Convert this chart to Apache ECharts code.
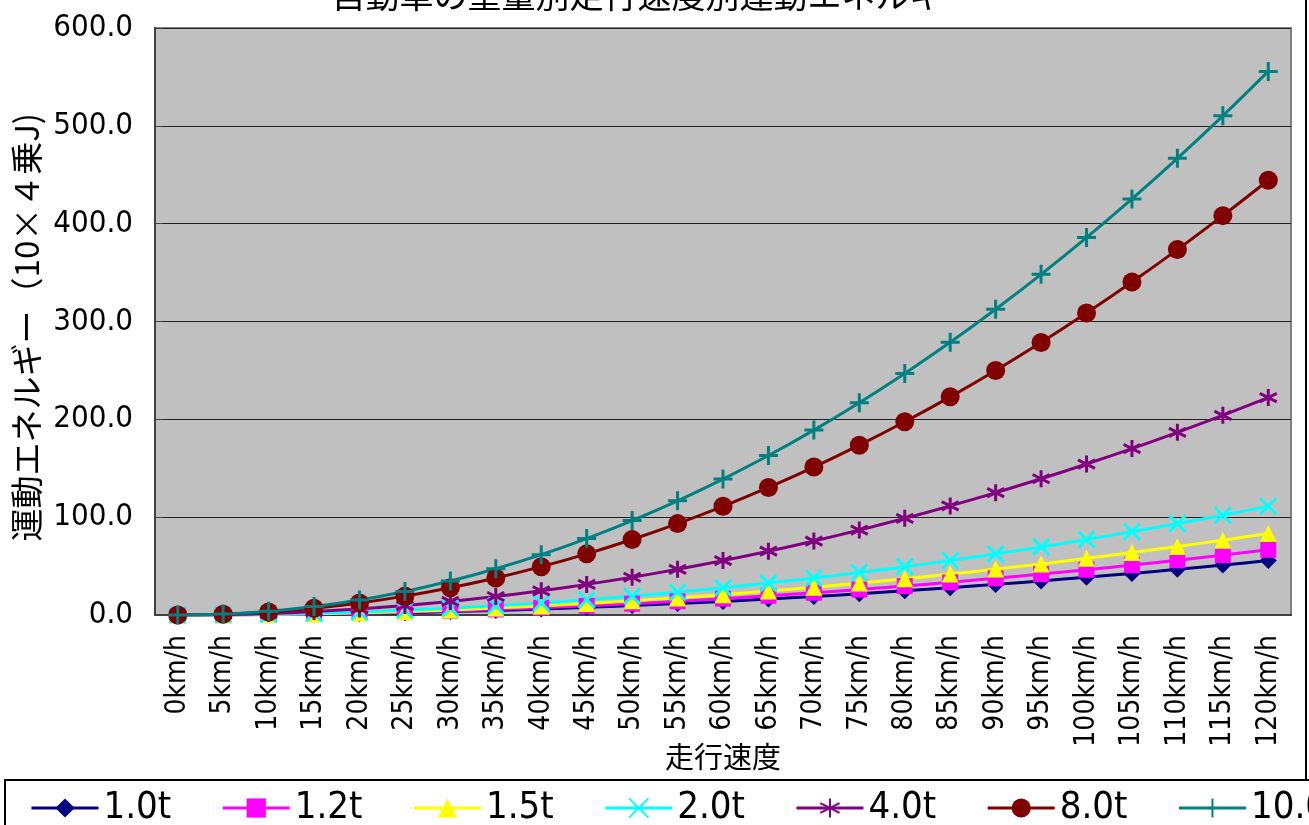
<!DOCTYPE html>
<html><head><meta charset="utf-8">
<script src="https://cdn.jsdelivr.net/npm/echarts@6/dist/echarts.min.js"></script>
<style>html,body{margin:0;padding:0;background:#fff}#c{width:1309px;height:825px}</style>
</head><body><div id="c"></div>
<script>
const categories = ['0km/h','5km/h','10km/h','15km/h','20km/h','25km/h','30km/h','35km/h','40km/h','45km/h','50km/h','55km/h','60km/h','65km/h','70km/h','75km/h','80km/h','85km/h','90km/h','95km/h','100km/h','105km/h','110km/h','115km/h','120km/h'];
const seriesNames = ['1.0t','1.2t','1.5t','2.0t','4.0t','8.0t','10.0t'];
const t1_0 = [0,0.1,0.4,0.9,1.5,2.4,3.5,4.7,6.2,7.8,9.6,11.7,13.9,16.3,18.9,21.7,24.7,27.9,31.3,34.8,38.6,42.5,46.7,51.0,55.6];
const t1_2 = [0,0.1,0.5,1.0,1.9,2.9,4.2,5.7,7.4,9.4,11.6,14.0,16.7,19.6,22.7,26.0,29.6,33.4,37.5,41.8,46.3,51.0,56.0,61.2,66.7];
const t1_5 = [0,0.1,0.6,1.3,2.3,3.6,5.2,7.1,9.3,11.7,14.5,17.5,20.8,24.5,28.4,32.6,37.0,41.8,46.9,52.2,57.9,63.8,70.0,76.5,83.3];
const t2_0 = [0,0.2,0.8,1.7,3.1,4.8,6.9,9.5,12.3,15.6,19.3,23.3,27.8,32.6,37.8,43.4,49.4,55.7,62.5,69.6,77.2,85.1,93.4,102.0,111.1];
const t4_0 = [0,0.4,1.5,3.5,6.2,9.6,13.9,18.9,24.7,31.3,38.6,46.7,55.6,65.2,75.6,86.8,98.8,111.5,125.0,139.3,154.3,170.1,186.7,204.1,222.2];
const t8_0 = [0,0.8,3.1,6.9,12.3,19.3,27.8,37.8,49.4,62.5,77.2,93.4,111.1,130.4,151.2,173.6,197.5,223.0,250.0,278.5,308.6,340.3,373.5,408.2,444.4];
const t10_0 = [0,1.0,3.9,8.7,15.4,24.1,34.7,47.3,61.7,78.1,96.5,116.7,138.9,163.0,189.0,217.0,246.9,278.7,312.5,348.2,385.8,425.3,466.8,510.2,555.6];
const yTicks = [0,100,200,300,400,500,600];

const FONT = "'Liberation Sans Narrow','DejaVu Sans Condensed','Noto Sans CJK JP',sans-serif";
const JFONT = "'Noto Sans CJK JP',sans-serif";

const styles = [
  {color:'#000080', symbol:'diamond', size:17, fill:true},
  {color:'#FF00FF', symbol:'rect', size:16, fill:true},
  {color:'#FFFF00', symbol:'triangle', size:17, fill:true},
  {color:'#00FFFF', symbol:'path://M0,0L10,10M10,0L0,10', size:16, fill:false},
  {color:'#800080', symbol:'path://M5,0L5,10M0.7,2.5L9.3,7.5M0.7,7.5L9.3,2.5', size:17, fill:false},
  {color:'#800000', symbol:'circle', size:19, fill:true},
  {color:'#008080', symbol:'path://M5,0L5,10M0,5L10,5', size:19, fill:false}
];
const datas = [t1_0,t1_2,t1_5,t2_0,t4_0,t8_0,t10_0];

const chart = echarts.init(document.getElementById('c'), null, {renderer:'canvas'});
chart.setOption({
  backgroundColor:'#fff',
  animation:false,
  title:{text:'自動車の重量別走行速度別運動エネルギー', left:'center', top:-27,
    textStyle:{fontFamily:JFONT, fontSize:34, fontWeight:'normal', color:'#000'}},
  grid:{left:155, top:28, right:18, bottom:210, show:true, backgroundColor:'#C0C0C0', borderColor:'#808080', borderWidth:2},
  legend:{left:25, top:784, width:2000, itemWidth:67, itemHeight:24, itemGap:50, data:seriesNames,
    lineStyle:{width:3},
    textStyle:{fontFamily:FONT, fontSize:38, color:'#000'}},
  xAxis:{type:'category', data:categories, boundaryGap:true,
    axisLine:{lineStyle:{color:'#404040', width:2}},
    axisTick:{inside:true, length:8, lineStyle:{color:'#404040', width:1}},
    axisLabel:{rotate:90, interval:0, margin:20, fontFamily:FONT, fontSize:28, color:'#000'}},
  yAxis:{type:'value', min:yTicks[0], max:yTicks[yTicks.length-1], interval:100,
    axisLine:{show:true, lineStyle:{color:'#404040', width:2}},
    axisTick:{show:true, inside:true, length:8, lineStyle:{color:'#404040'}},
    splitLine:{lineStyle:{color:'#222', width:1}},
    axisLabel:{margin:22, fontFamily:FONT, fontSize:31, color:'#000', formatter:v=>v.toFixed(1)}},
  graphic:[
    {type:'text', left:10, top:113, rotation:Math.PI/2, style:{text:'運動エネルギー（10×４乗J)', font:"33px 'Noto Sans CJK JP'", fill:'#000'}, z:10},
    {type:'text', x:723, y:757, style:{text:'走行速度', font:"29px 'Noto Sans CJK JP'", fill:'#000', align:'center', verticalAlign:'middle'}, z:10},
    {type:'rect', shape:{x:5, y:780, width:1400, height:100}, style:{fill:'none', stroke:'#000', lineWidth:2}, z:-1},
    {type:'line', shape:{x1:1306, y1:0, x2:1306, y2:780}, style:{stroke:'#000', lineWidth:2}, z:-1}
  ],
  series: seriesNames.map((n,i)=>({
    name:n, type:'line', data:datas[i], smooth:0.3,
    symbol:styles[i].symbol, symbolSize:styles[i].size, showAllSymbol:true,
    color:styles[i].color,
    lineStyle:{color:styles[i].color, width:3},
    itemStyle: styles[i].fill ? {color:styles[i].color} : {color:styles[i].color, borderColor:styles[i].color, borderWidth:3}
  }))
});
</script></body></html>
